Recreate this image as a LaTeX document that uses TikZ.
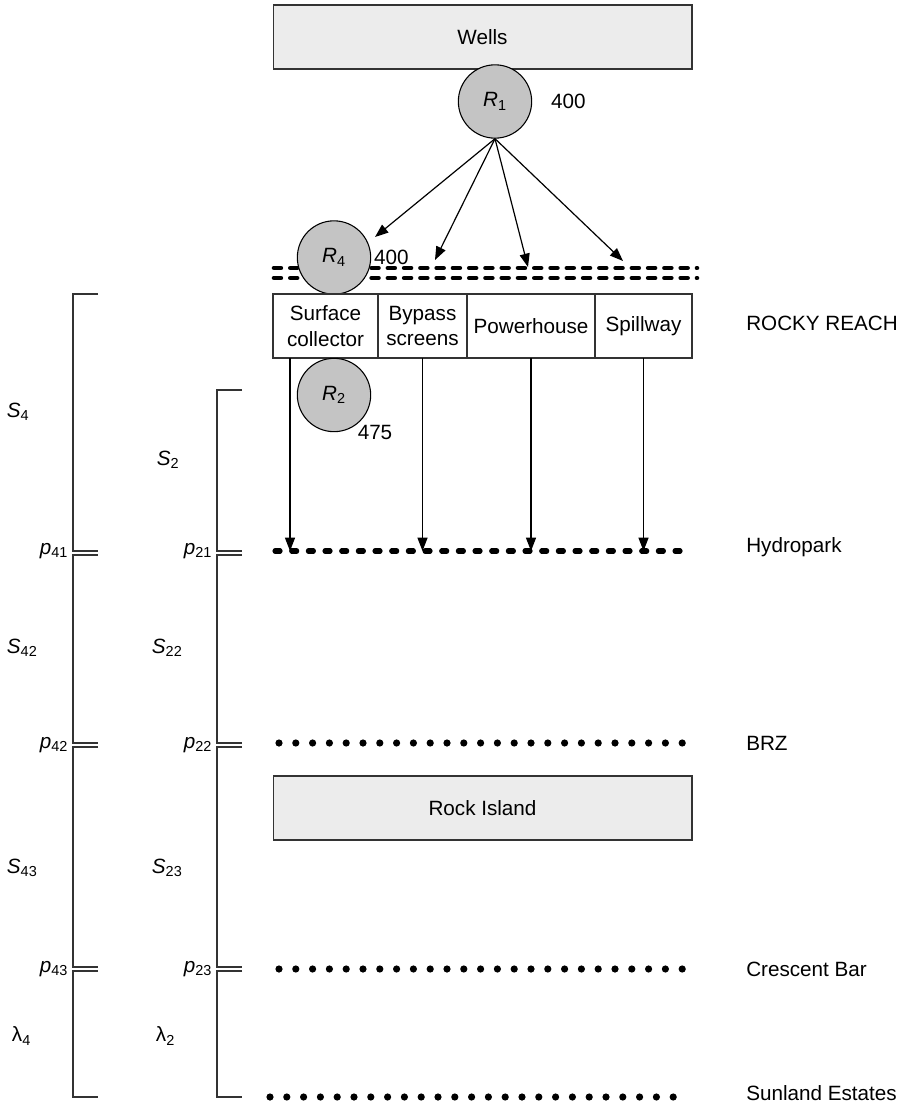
\documentclass[tikz,border=0pt]{standalone}
\usepackage{fontspec}
\setmainfont{Liberation Sans}
\usepackage{tikz}
\usetikzlibrary{arrows.meta,positioning}
\definecolor{boxgray}{HTML}{ECECEC}
\definecolor{relgray}{HTML}{C4C4C4}
\definecolor{linegray}{HTML}{333333}
\tikzset{
    damblock/.style={rectangle, draw=linegray, line width=1pt, fill=boxgray, minimum width=314pt, minimum height=48pt, inner sep=0pt},
    route/.style={rectangle, draw=linegray, line width=1pt, minimum height=48pt, inner sep=0pt, outer sep=0pt, align=center},
    release/.style={circle, draw=black, line width=0.8pt, fill=relgray, minimum size=55pt, inner sep=0pt},
    numtag/.style={inner sep=2pt},
    tag/.style={inner sep=2pt},
    site/.style={anchor=west, inner sep=0pt},
    seg/.style={draw=linegray, line width=1.1pt},
    flow/.style={-{Triangle[length=10pt,width=7.5pt]}, line width=0.9pt},
    dashrow/.style={line width=3.8pt, line cap=round, dash pattern=on 3.8pt off 8.7pt},
    forebay/.style={line width=3.4pt, line cap=round, dash pattern=on 5.2pt off 7pt},
    dotrow/.style={line width=5.4pt, line cap=round, dash pattern=on 0pt off 12.6pt}
}

\begin{document}
\begin{tikzpicture}[x=0.75pt, y=-0.75pt, font=\fontsize{15.5}{19}\selectfont]
    \useasboundingbox (0,0) rectangle (906,1105);
    % upstream dam and release R1
    \node[damblock] (wells) at (482.5,37) {Wells};
    \node[release] (r1) at (495,101.5) {\textit{R}\textsubscript{1}};
    \node[numtag, right=12pt of r1] (r1n) {400};

    % Rocky Reach forebay
    \draw[forebay] (274,268) -- (697,268);
    \draw[forebay] (274,278) -- (697,278);
    \node[release] (r4) at (334,257.5) {\textit{R}\textsubscript{4}};
    \node[numtag, right=0pt of r4] (r4n) {400};

    \coordinate (t1) at (375,237);
    \coordinate (t2) at (435,260);
    \coordinate (t3) at (528,267);
    \coordinate (t4) at (623,261);
    \draw[flow] (r1.south) -- (t1);
    \draw[flow] (r1.south) -- (t2);
    \draw[flow] (r1.south) -- (t3);
    \draw[flow] (r1.south) -- (t4);

    % passage routes
    \node[route, minimum width=78.75pt] (sc) at (325.5,326) {Surface\\collector};
    \node[route, minimum width=66.75pt, right=0pt of sc] (bp) {Bypass\\screens};
    \node[route, minimum width=96pt, right=0pt of bp] (ph) {Powerhouse};
    \node[route, minimum width=72.75pt, right=0pt of ph] (sp) {Spillway};
    \node[release] (r2) at (334,395) {\textit{R}\textsubscript{2}};
    \node[numtag] (r2n) at (375,432) {475};

    \coordinate (hyd) at (290,551);
    \draw[flow] (sc.south -| hyd) -- (hyd);
    \draw[flow] (bp.south) -- (bp.south |- hyd);
    \draw[flow] (ph.south) -- (ph.south |- hyd);
    \draw[flow] (sp.south) -- (sp.south |- hyd);

    % detection sites
    \draw[dashrow] (275,551) -- (681,551);
    \draw[dotrow] (279,743) -- (683,743);
    \node[damblock] (rock) at (482.5,808) {Rock Island};
    \draw[dotrow] (279,969) -- (683,969);
    \draw[dotrow] (270,1097) -- (674,1097);

    \node[site] (rr) at (746,323) {ROCKY REACH};
    \node[site] (hp) at (746,547) {Hydropark};
    \node[site] (brz) at (746,743) {BRZ};
    \node[site] (cb) at (746,969) {Crescent Bar};
    \node[site] (se) at (746,1093) {Sunland Estates};

    % reach brackets
    \foreach \bx/\btop in {73/294, 217/390} {
        \draw[seg] (\bx+25,\btop) -- (\bx,\btop) -- (\bx,551) -- (\bx+25,551);
        \draw[seg] (\bx+25,555) -- (\bx,555) -- (\bx,743) -- (\bx+25,743);
        \draw[seg] (\bx+25,747) -- (\bx,747) -- (\bx,967) -- (\bx+25,967);
        \draw[seg] (\bx+25,971) -- (\bx,971) -- (\bx,1097) -- (\bx+25,1097);
    }

    \node[tag, anchor=west] (s4) at (4,412) {\textit{S}\textsubscript{4}};
    \node[tag, anchor=west] (s42) at (4,648) {\textit{S}\textsubscript{42}};
    \node[tag, anchor=west] (s43) at (4,868) {\textit{S}\textsubscript{43}};
    \node[tag, anchor=west] (l4) at (9,1036) {λ\textsubscript{4}};
    \node[tag, anchor=east] (p41) at (71,551) {\textit{p}\textsubscript{41}};
    \node[tag, anchor=east] (p42) at (71,745) {\textit{p}\textsubscript{42}};
    \node[tag, anchor=east] (p43) at (71,969) {\textit{p}\textsubscript{43}};

    \node[tag, anchor=west] (s2) at (154,460) {\textit{S}\textsubscript{2}};
    \node[tag, anchor=west] (s22) at (149,648) {\textit{S}\textsubscript{22}};
    \node[tag, anchor=west] (s23) at (149,868) {\textit{S}\textsubscript{23}};
    \node[tag, anchor=west] (l2) at (153,1036) {λ\textsubscript{2}};
    \node[tag, anchor=east] (p21) at (215,551) {\textit{p}\textsubscript{21}};
    \node[tag, anchor=east] (p22) at (215,745) {\textit{p}\textsubscript{22}};
    \node[tag, anchor=east] (p23) at (215,969) {\textit{p}\textsubscript{23}};
\end{tikzpicture}
\end{document}
